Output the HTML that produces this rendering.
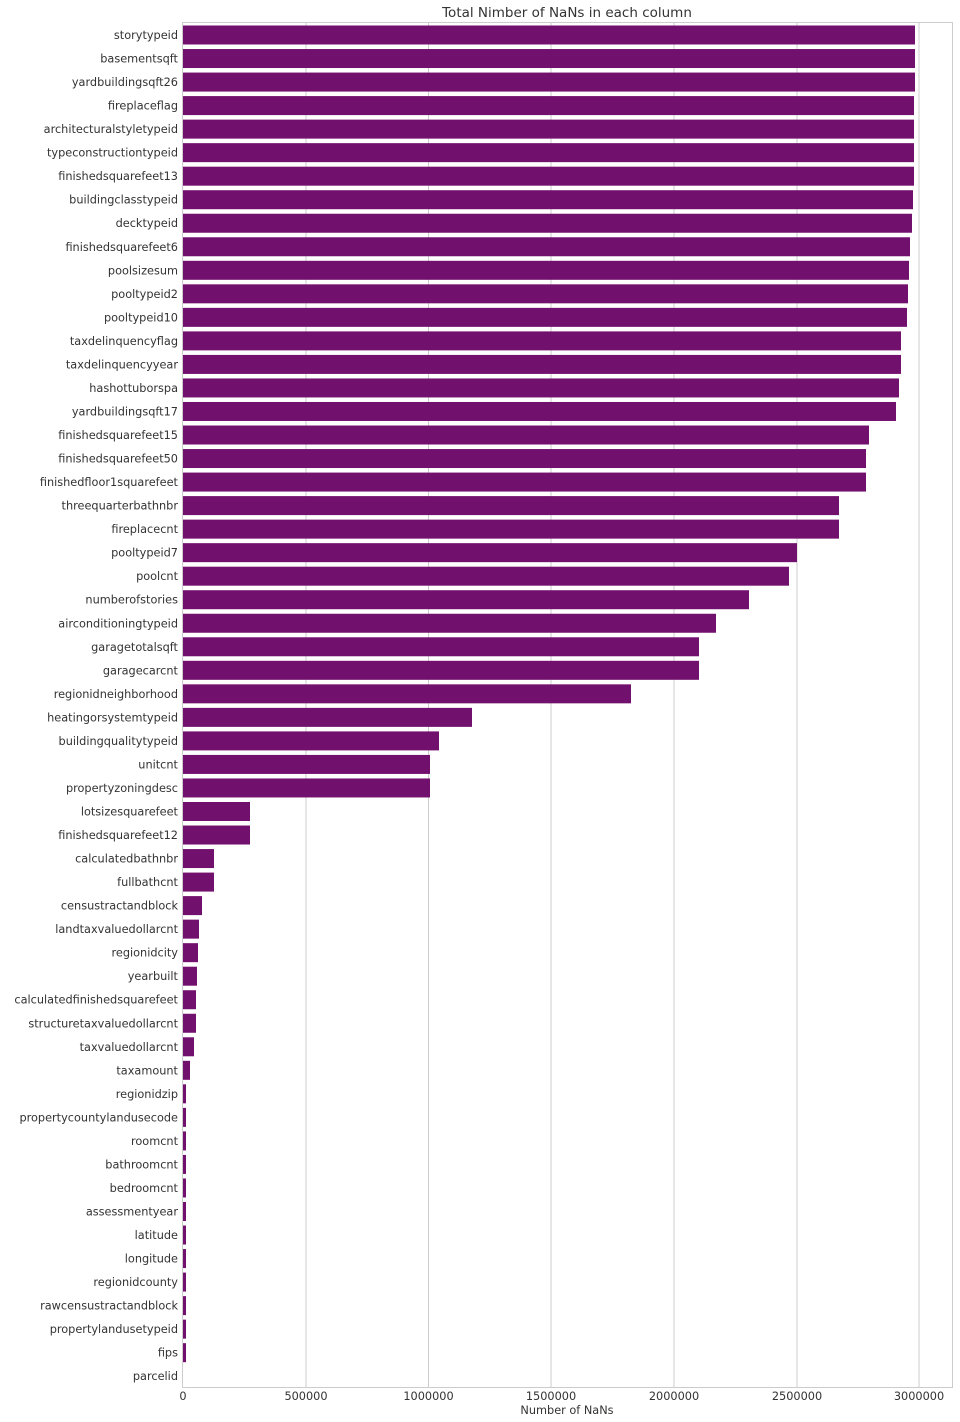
<!DOCTYPE html>
<html><head><meta charset="utf-8"><style>body{margin:0;background:#fff}svg{display:block}text{font-family:"DejaVu Sans",sans-serif;fill:#333}</style></head>
<body>
<svg width="960" height="1422" viewBox="0 0 960 1422" id="s">
<rect x="182.5" y="22.5" width="770" height="1365" fill="none" stroke="#ccc"/>
<g stroke="#ccc" stroke-width="1">
<line x1="306" y1="23" x2="306" y2="1387"/><line x1="428.5" y1="23" x2="428.5" y2="1387"/><line x1="551" y1="23" x2="551" y2="1387"/><line x1="674" y1="23" x2="674" y2="1387"/><line x1="797" y1="23" x2="797" y2="1387"/><line x1="919" y1="23" x2="919" y2="1387"/>
</g>
<text x="567" y="17" font-size="13.5" text-anchor="middle">Total Nimber of NaNs in each column</text>
<g font-size="11.3" text-anchor="middle">
<text x="183" y="1400">0</text><text x="306" y="1400">500000</text><text x="428.5" y="1400">1000000</text><text x="551" y="1400">1500000</text><text x="674" y="1400">2000000</text><text x="797" y="1400">2500000</text><text x="919" y="1400">3000000</text>
<text x="567" y="1414">Number of NaNs</text>
</g>
<g id="bars"></g>
</svg>
<script>
var d=[["storytypeid",915],["basementsqft",915],["yardbuildingsqft26",915],["fireplaceflag",914],["architecturalstyletypeid",914],["typeconstructiontypeid",914],["finishedsquarefeet13",914],["buildingclasstypeid",913],["decktypeid",912],["finishedsquarefeet6",910],["poolsizesum",909],["pooltypeid2",908],["pooltypeid10",907],["taxdelinquencyflag",901],["taxdelinquencyyear",901],["hashottuborspa",899],["yardbuildingsqft17",896],["finishedsquarefeet15",869],["finishedsquarefeet50",866],["finishedfloor1squarefeet",866],["threequarterbathnbr",839],["fireplacecnt",839],["pooltypeid7",797],["poolcnt",789],["numberofstories",749],["airconditioningtypeid",716],["garagetotalsqft",699],["garagecarcnt",699],["regionidneighborhood",631],["heatingorsystemtypeid",472],["buildingqualitytypeid",439],["unitcnt",430],["propertyzoningdesc",430],["lotsizesquarefeet",250],["finishedsquarefeet12",250],["calculatedbathnbr",214],["fullbathcnt",214],["censustractandblock",202],["landtaxvaluedollarcnt",199],["regionidcity",198],["yearbuilt",197],["calculatedfinishedsquarefeet",196],["structuretaxvaluedollarcnt",196],["taxvaluedollarcnt",194],["taxamount",190],["regionidzip",186],["propertycountylandusecode",186],["roomcnt",186],["bathroomcnt",186],["bedroomcnt",186],["assessmentyear",186],["latitude",186],["longitude",186],["regionidcounty",186],["rawcensustractandblock",186],["propertylandusetypeid",186],["fips",186],["parcelid",183]];
var h="";d.forEach(function(e,i){var c=35+i*23.53;
if(e[1]>183)h+='<rect x="183" y="'+(c-9.5)+'" width="'+(e[1]-183)+'" height="19" fill="#72106d"/>';
h+='<text x="178" y="'+(c+4)+'" font-size="11.3" text-anchor="end">'+e[0]+'</text>';});
document.getElementById("bars").innerHTML=h;
</script>
</body></html>
